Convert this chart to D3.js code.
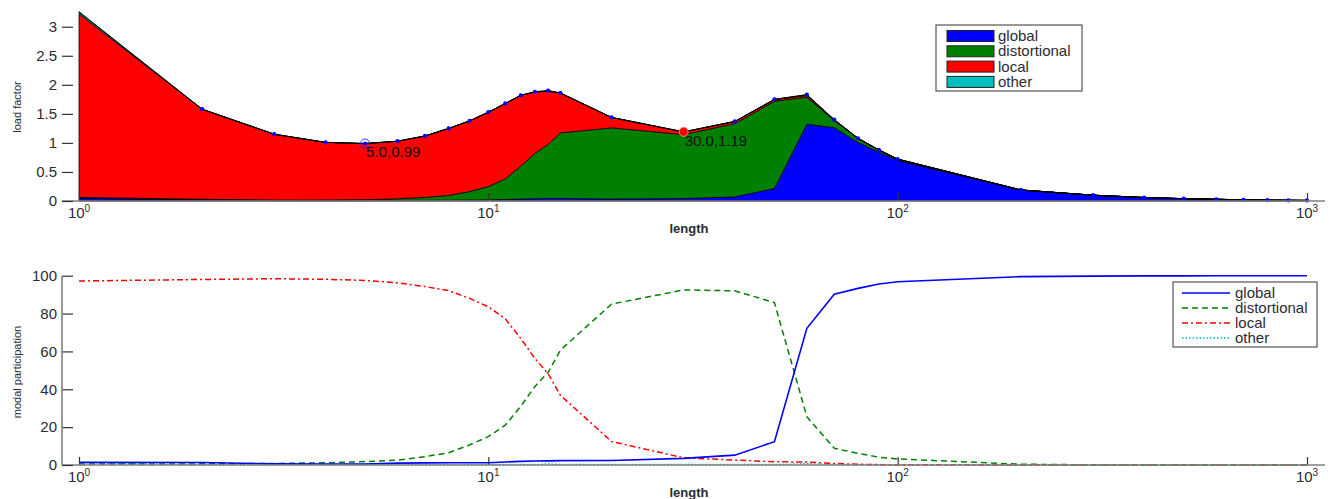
<!DOCTYPE html>
<html lang="en">
<head>
    <meta charset="UTF-8">
    <script src="https://d3js.org/d3.v7.min.js" charset="utf-8"></script>
    <title>Load factor and modal participation</title>
    <style>
        body { margin: 0; background: #fff; }
        svg text { font-family: "Liberation Sans", Arial, sans-serif; }
    </style>
</head>
<body>
<div id="chart"></div>
<script>
    // half-wavelengths of the signature curve
    const lengths = [1, 2, 3, 4, 5, 6, 7, 8, 9, 10, 11, 12, 13, 14, 15, 20, 30, 40, 50, 60, 70, 80, 90, 100,
        200, 300, 400, 500, 600, 700, 800, 900, 1000];
    // total load factor (top curve)
    const loadFactor = [3.25, 1.58, 1.15, 1.01, 0.99, 1.03, 1.12, 1.25, 1.38, 1.53, 1.68, 1.82, 1.88, 1.90, 1.86, 1.44,
        1.19, 1.37, 1.75, 1.83, 1.40, 1.08, 0.88, 0.72, 0.19, 0.10, 0.06, 0.04, 0.03, 0.02, 0.015, 0.012, 0.01];
    // modal participation, percent
    const globalPct = [1.4, 1.3, 0.6, 0.5, 0.5, 1.0, 1.1, 1.2, 1.2, 1.2, 1.6, 1.9, 2.1, 2.2, 2.3, 2.4, 3.5, 5.2,
        12.3, 72.2, 90.2, 93.3, 95.6, 96.8, 99.5, 99.8, 99.9, 99.9, 100, 100, 100, 100, 100];
    const distPct = [0.5, 0.6, 0.8, 1.2, 1.8, 2.6, 4.4, 6.5, 10.6, 15.0, 21.0, 31.0, 41.5, 49.0, 60.7, 85.0, 92.5,
        92.0, 85.8, 25.5, 8.8, 6.2, 4.1, 3.2, 0.4, 0.1, 0, 0, 0, 0, 0, 0, 0];
    const localPct = [97.2, 98.0, 98.4, 98.1, 97.5, 96.2, 94.3, 92.1, 88.0, 83.6, 77.2, 66.9, 56.2, 48.2, 36.8, 12.4,
        3.8, 2.6, 1.7, 1.6, 0.8, 0.4, 0.2, 0.1, 0.05, 0.05, 0, 0, 0, 0, 0, 0, 0];
    const otherPct = [1.2, 0.1, 0.2, 0.2, 0.2, 0.2, 0.2, 0.2, 0.2, 0.2, 0.2, 0.2, 0.2, 0.6, 0.2, 0.2, 0.2, 0.2,
        0.2, 0.7, 0.2, 0.1, 0.1, 0, 0, 0, 0, 0, 0, 0, 0, 0, 0];

    const modes = ["global", "distortional", "local", "other"];
    const modeColors = {global: "#0000ff", distortional: "#008000", local: "#ff0000", other: "#00bfbf"};
    const modeDash = {global: null, distortional: "6,4", local: "6,3,2,3", other: "1.5,2"};
    const pctByMode = {global: globalPct, distortional: distPct, local: localPct, other: otherPct};

    // marked points on the curve
    const markedPoints = [
        {L: 5, value: 0.99, label: "5.0,0.99"},
        {L: 30, value: 1.19, label: "30.0,1.19"}
    ];

    const width = 1330, height = 499;
    const svg = d3.select("#chart").append("svg")
        .attr("width", width)
        .attr("height", height);

    const axisLeftX = 62, axisRightX = 1325;
    const x = d3.scaleLog().domain([1, 1000]).range([79, 1307]);
    const yTop = d3.scaleLinear().domain([0, 3.25]).range([201, 12.2]);
    const yBot = d3.scaleLinear().domain([0, 100]).range([465, 275.7]);

    const majorTicks = [1, 10, 100, 1000];
    const minorTicks = [];
    [1, 10, 100].forEach(d => { for (let k = 2; k <= 9; k++) minorTicks.push(d * k); });

    const axisColor = "#808080";
    const tickColor = "#333";
    const textColor = "#2b2b33";

    // ---------- top: stacked load factor ----------
    const rows = lengths.map((L, i) => {
        const r = {L: L};
        modes.forEach(m => r[m] = loadFactor[i] * pctByMode[m][i] / 100);
        return r;
    });
    const stacked = d3.stack().keys(modes)(rows);

    const area = d3.area()
        .x(d => x(d.data.L))
        .y0(d => yTop(d[0]))
        .y1(d => yTop(d[1]));

    svg.append("g").selectAll("path")
        .data(stacked)
        .join("path")
        .attr("d", area)
        .attr("fill", d => modeColors[d.key])
        .attr("stroke", "#000")
        .attr("stroke-width", 0.8);

    const topLine = d3.line().x((d, i) => x(lengths[i])).y(d => yTop(d));
    svg.append("path")
        .attr("d", topLine(loadFactor))
        .attr("fill", "none")
        .attr("stroke", "#000")
        .attr("stroke-width", 1);

    svg.append("g").selectAll("circle")
        .data(lengths.slice(1))
        .join("circle")
        .attr("cx", d => x(d))
        .attr("cy", d => yTop(loadFactor[lengths.indexOf(d)]))
        .attr("r", 2.1)
        .attr("fill", "#0000ff");

    // marked points
    const mp = svg.append("g");
    mp.append("circle")
        .attr("cx", x(markedPoints[0].L)).attr("cy", yTop(markedPoints[0].value))
        .attr("r", 4.5).attr("fill", "none").attr("stroke", "#3030ff").attr("stroke-width", 1);
    mp.append("circle")
        .attr("cx", x(markedPoints[0].L)).attr("cy", yTop(markedPoints[0].value))
        .attr("r", 1.6).attr("fill", "#0000ff");
    mp.append("circle")
        .attr("cx", x(markedPoints[1].L)).attr("cy", yTop(markedPoints[1].value))
        .attr("r", 4.5).attr("fill", "#ff0000").attr("stroke", "#ff8080").attr("stroke-width", 1);
    mp.selectAll("text")
        .data(markedPoints)
        .join("text")
        .attr("x", d => x(d.L) + 1)
        .attr("y", d => yTop(d.value) + 14)
        .attr("font-size", 15)
        .attr("fill", "#111")
        .text(d => d.label);

    // ---------- bottom: modal participation ----------
    const partLine = d3.line().x((d, i) => x(lengths[i])).y(d => yBot(d));
    svg.append("g").selectAll("path")
        .data(["other", "local", "distortional", "global"])
        .join("path")
        .attr("d", m => partLine(pctByMode[m]))
        .attr("fill", "none")
        .attr("stroke", m => modeColors[m])
        .attr("stroke-width", m => m === "global" ? 1.6 : 1.5)
        .attr("stroke-dasharray", m => modeDash[m]);

    // ---------- axes ----------
    const drawXAxis = (yPos) => {
        const g = svg.append("g").attr("transform", `translate(0,${yPos})`);
        g.call(d3.axisBottom(x).tickValues(minorTicks).tickSize(-4).tickFormat(""));
        g.call(d3.axisBottom(x).tickValues(majorTicks).tickSize(-8).tickFormat(""));
        g.selectAll(".domain").remove();
        g.selectAll(".tick line").attr("stroke", tickColor).attr("stroke-width", 1.2);
        g.append("line")
            .attr("x1", axisLeftX).attr("x2", axisRightX)
            .attr("y1", 0).attr("y2", 0)
            .attr("stroke", axisColor).attr("stroke-width", 1.6);
        const lab = g.selectAll(".exp-label")
            .data(majorTicks)
            .join("text")
            .attr("class", "exp-label")
            .attr("x", d => x(d))
            .attr("y", 17)
            .attr("text-anchor", "middle")
            .attr("font-size", 15)
            .attr("fill", textColor);
        lab.append("tspan").text("10");
        lab.append("tspan").attr("dy", -6).attr("font-size", 10).text(d => Math.round(Math.log10(d)));
    };
    drawXAxis(201);
    drawXAxis(465);

    const drawYAxis = (scale, ticks, withLine) => {
        const g = svg.append("g").attr("transform", `translate(${axisLeftX},0)`);
        g.call(d3.axisLeft(scale).tickValues(ticks).tickSize(-11).tickPadding(5).tickFormat(d3.format("~g")));
        g.selectAll(".domain").remove();
        g.selectAll(".tick line").attr("stroke", tickColor).attr("stroke-width", 1.2);
        g.selectAll(".tick text")
            .attr("font-size", 15)
            .attr("fill", textColor)
            .attr("font-family", "Liberation Sans, Arial, sans-serif");
        if (withLine) {
            g.append("line")
                .attr("x1", 0).attr("x2", 0)
                .attr("y1", scale.range()[0]).attr("y2", scale.range()[1])
                .attr("stroke", axisColor).attr("stroke-width", 1.6);
        }
    };
    drawYAxis(yTop, [0, 0.5, 1, 1.5, 2, 2.5, 3], false);
    drawYAxis(yBot, [0, 20, 40, 60, 80, 100], true);

    // axis titles
    svg.append("text").attr("x", 689).attr("y", 232.5).attr("text-anchor", "middle")
        .attr("font-size", 13).attr("font-weight", "bold").attr("fill", textColor).text("length");
    svg.append("text").attr("x", 689).attr("y", 497).attr("text-anchor", "middle")
        .attr("font-size", 13).attr("font-weight", "bold").attr("fill", textColor).text("length");
    svg.append("text").attr("transform", "translate(21,107) rotate(-90)").attr("text-anchor", "middle")
        .attr("font-size", 11).attr("fill", textColor).text("load factor");
    svg.append("text").attr("transform", "translate(21,372) rotate(-90)").attr("text-anchor", "middle")
        .attr("font-size", 11).attr("fill", textColor).text("modal participation");

    // ---------- legends ----------
    const topLegend = svg.append("g").attr("transform", "translate(936,25)");
    topLegend.append("rect")
        .attr("width", 146).attr("height", 66)
        .attr("fill", "#fff").attr("stroke", "#555").attr("stroke-width", 1.2);
    const tl = topLegend.selectAll(".item")
        .data(modes)
        .join("g")
        .attr("class", "item")
        .attr("transform", (d, i) => `translate(0,${11 + i * 15.3})`);
    tl.append("rect")
        .attr("x", 11).attr("y", -5.5).attr("width", 47).attr("height", 11)
        .attr("fill", d => modeColors[d]).attr("stroke", "#222").attr("stroke-width", 1);
    tl.append("text")
        .attr("x", 62).attr("y", 5)
        .attr("font-size", 15).attr("fill", textColor)
        .text(d => d);

    const botLegend = svg.append("g").attr("transform", "translate(1173,282)");
    botLegend.append("rect")
        .attr("width", 144).attr("height", 65)
        .attr("fill", "#fff").attr("stroke", "#555").attr("stroke-width", 1.2);
    const bl = botLegend.selectAll(".item")
        .data(modes)
        .join("g")
        .attr("class", "item")
        .attr("transform", (d, i) => `translate(0,${11 + i * 15})`);
    bl.append("line")
        .attr("x1", 9).attr("x2", 57).attr("y1", 0).attr("y2", 0)
        .attr("stroke", d => modeColors[d]).attr("stroke-width", 1.5)
        .attr("stroke-dasharray", d => modeDash[d]);
    bl.append("text")
        .attr("x", 62).attr("y", 5)
        .attr("font-size", 15).attr("fill", textColor)
        .text(d => d);
</script>
</body>
</html>
